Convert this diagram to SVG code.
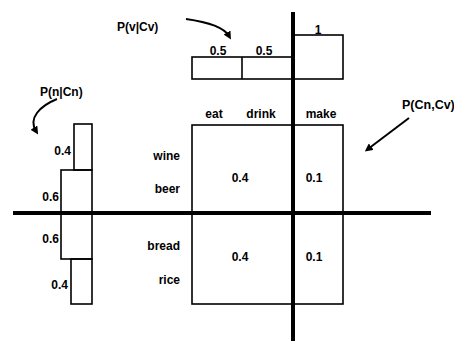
<svg xmlns="http://www.w3.org/2000/svg" width="454" height="341" viewBox="0 0 454 341">
<style>
text{font-family:"Liberation Sans",Arial,sans-serif;font-size:12px;font-weight:bold;fill:#000}
.box{fill:none;stroke:#000;stroke-width:1.6}
.axis{stroke:#000;stroke-width:4;fill:none}
.arr{stroke:#000;stroke-width:2;fill:none}
.m{text-anchor:middle}
.e{text-anchor:end}
</style>
<defs>
<marker id="ah" viewBox="0 0 10 10" refX="5" refY="5" markerWidth="4" markerHeight="4" orient="auto" markerUnits="strokeWidth">
<path d="M0,0 L10,5 L0,10 z" fill="#000"/>
</marker>
</defs>
<rect width="454" height="341" fill="#fff"/>
<g id="joint">
<rect class="box" x="192" y="125" width="151" height="179"/>
<text class="m" x="214" y="118">eat</text>
<text class="m" x="261" y="118">drink</text>
<text class="m" x="321" y="118">make</text>
<text class="e" x="180" y="160">wine</text>
<text class="e" x="180" y="193">beer</text>
<text class="e" x="180" y="250">bread</text>
<text class="e" x="180" y="284">rice</text>
<text class="m" x="240" y="182">0.4</text>
<text class="m" x="314" y="182">0.1</text>
<text class="m" x="240" y="261">0.4</text>
<text class="m" x="314" y="261">0.1</text>
</g>
<g id="pv">
<rect class="box" x="192" y="57" width="101" height="22"/>
<line class="box" x1="242" y1="57" x2="242" y2="79"/>
<rect class="box" x="293" y="35" width="50" height="44"/>
<text class="m" x="218" y="55">0.5</text>
<text class="m" x="264" y="55">0.5</text>
<text class="m" x="318" y="34">1</text>
</g>
<g id="pn">
<rect class="box" x="74" y="124" width="18" height="46"/>
<rect class="box" x="61" y="170" width="31" height="43"/>
<rect class="box" x="61" y="213" width="31" height="46"/>
<rect class="box" x="71" y="259" width="21" height="45"/>
<text class="e" x="71" y="155">0.4</text>
<text class="e" x="59" y="201">0.6</text>
<text class="e" x="59" y="243">0.6</text>
<text class="e" x="68" y="289">0.4</text>
</g>
<g id="axes">
<line class="axis" x1="293" y1="12" x2="293" y2="341"/>
<line class="axis" x1="13" y1="213" x2="431" y2="213"/>
</g>
<g id="titles">
<text x="117" y="31">P(v|Cv)</text>
<text x="40" y="96">P(n|Cn)</text>
<text x="402" y="109" style="font-size:12.5px">P(Cn,Cv)</text>
</g>
<g id="connectors">
<path class="arr" d="M186,19 Q222,24 229,36" marker-end="url(#ah)"/>
<path class="arr" d="M57,99 C40,106 28,118 36,131" marker-end="url(#ah)"/>
<path class="arr" d="M409,118 L368,149" marker-end="url(#ah)"/>
</g>
</svg>
